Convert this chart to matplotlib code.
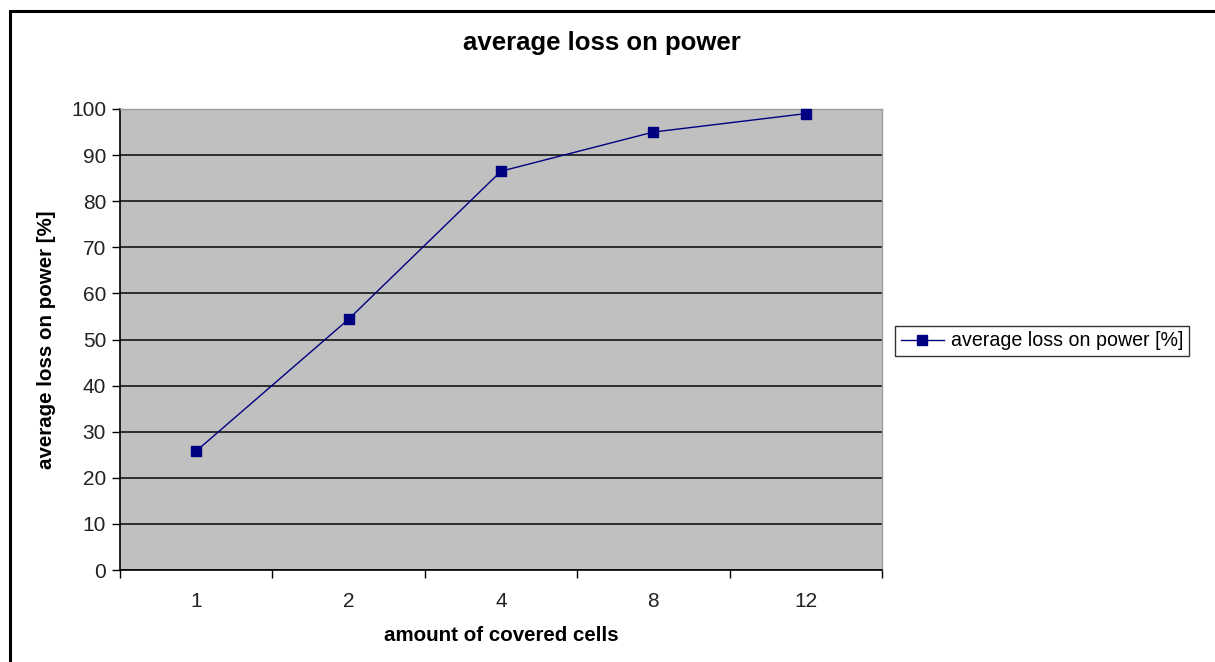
import numpy as np
import matplotlib
matplotlib.use("Agg")
import matplotlib.pyplot as plt
from matplotlib.patches import Rectangle

plt.rcParams['font.family'] = ['Liberation Sans', 'DejaVu Sans']

cells = ["1", "2", "4", "8", "12"]
loss = [25.8, 54.4, 86.5, 95.0, 99.0]
title = "average loss on power"
series_name = "average loss on power [%]"

fig = plt.figure(figsize=(12.15, 6.62), dpi=100)
ax = fig.add_axes([120 / 1215, 92 / 662, 762 / 1215, 461 / 662])

# outer chart frame (runs off right and bottom)
fig.patches.append(Rectangle((9.5 / 1215, -0.1), 1.2, (651.5 / 662) + 0.1,
                             transform=fig.transFigure, fill=False,
                             edgecolor="black", linewidth=2.2, zorder=0))

ax.set_facecolor("#C0C0C0")
x = np.arange(len(cells)) + 0.5
ax.set_xlim(0, len(cells))
ax.set_ylim(0, 100)

ax.set_yticks(np.arange(0, 101, 10))
ax.grid(axis="y", color="#222222", linewidth=1.3)
ax.set_axisbelow(True)

ax.set_xticks(np.arange(0, len(cells) + 1))
ax.set_xticklabels([])
ax.set_xticks(x, minor=True)
ax.set_xticklabels(cells, minor=True)
ax.tick_params(axis="x", which="minor", length=0, pad=15.5, labelsize=15, labelcolor="#222222")
ax.tick_params(axis="x", which="major", length=6, width=1, direction="out")
ax.tick_params(axis="y", length=6, width=1, direction="out", pad=4, labelsize=15, labelcolor="#222222")

for side in ["top", "right"]:
    ax.spines[side].set_color("#9a9a9a")
    ax.spines[side].set_linewidth(1)
for side in ["left", "bottom"]:
    ax.spines[side].set_color("black")
    ax.spines[side].set_linewidth(1.2)

ax.plot(x, loss, color="#000080", linewidth=1, marker="s", markersize=6.5,
        markerfacecolor="#000080", markeredgecolor="#000080", label=series_name,
        clip_on=False, zorder=3)

fig.text(602 / 1215, 1 - 43 / 662, title, ha="center", va="center",
         fontsize=18.5, fontweight="bold")
ax.set_xlabel("amount of covered cells", fontsize=14.8, fontweight="bold", labelpad=11)
ax.set_ylabel("average loss on power [%]", fontsize=14.8, fontweight="bold", labelpad=10.5)

leg = ax.legend(loc="center left", bbox_to_anchor=(895 / 1215, 1 - 341 / 662),
                bbox_transform=fig.transFigure, frameon=True, fancybox=False,
                fontsize=14.1, handlelength=2.2, borderpad=0.3, handletextpad=0.35,
                borderaxespad=0)
leg.get_frame().set_edgecolor("black")
leg.get_frame().set_linewidth(1)

fig.savefig("out.png", dpi=100, facecolor="white")
